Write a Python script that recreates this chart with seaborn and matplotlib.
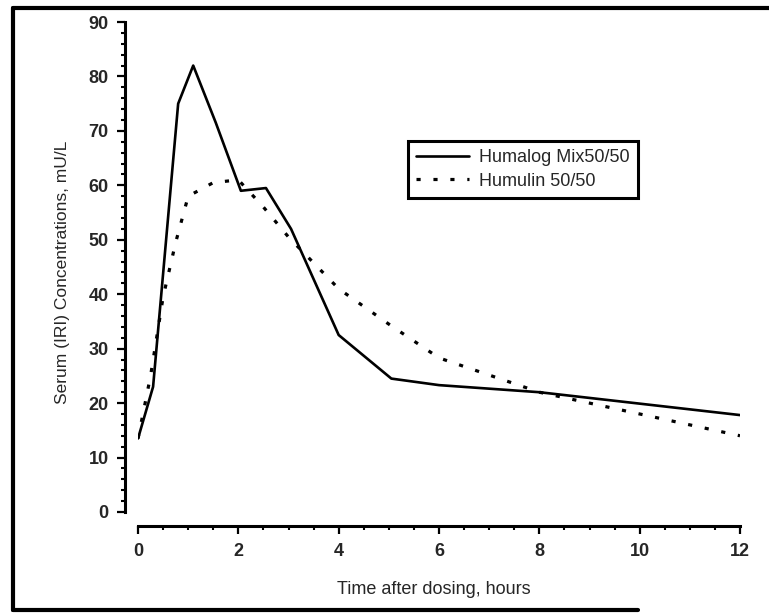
import numpy as np
import matplotlib
matplotlib.use("Agg")
import matplotlib.pyplot as plt
from matplotlib.ticker import MultipleLocator
from matplotlib.lines import Line2D
import seaborn as sns
import pandas as pd

# values
humalog_time = [0, 0.3, 0.8, 1.1, 1.55, 2.05, 2.55, 3.05, 4.0, 5.05, 6.0, 8.0, 12.0]
humalog_conc = [13.5, 23, 75, 82, 71.5, 59, 59.5, 52, 32.5, 24.5, 23.3, 22, 17.8]

humulin_time = [0, 0.25, 0.5, 0.75, 1.0, 1.5, 2.0, 2.5, 3.0, 4.0, 5.0, 6.0, 8.0, 12.0]
humulin_conc = [13.5, 25, 39.5, 49.5, 58, 60.5, 61, 56, 50.5, 41, 34.5, 28.3, 22, 14]

x_ticks = [0, 2, 4, 6, 8, 10, 12]
y_ticks = [0, 10, 20, 30, 40, 50, 60, 70, 80, 90]

df_humalog = pd.DataFrame({"time": humalog_time, "conc": humalog_conc})
df_humulin = pd.DataFrame({"time": humulin_time, "conc": humulin_conc})

sns.set_style("ticks")
plt.rcParams["font.family"] = ["Liberation Sans", "DejaVu Sans"]

fig = plt.figure(figsize=(7.69, 6.13), dpi=100)
ax = fig.add_axes([0.1795, 0.1648, 0.7828, 0.7993])

sns.lineplot(data=df_humalog, x="time", y="conc", ax=ax, color="black",
             lw=1.9, label="Humalog Mix50/50", errorbar=None, sort=False)
sns.lineplot(data=df_humulin, x="time", y="conc", ax=ax, color="black",
             lw=2.3, linestyle=(0, (1.3, 4.0)), label="Humulin 50/50",
             errorbar=None, sort=False)

ax.set_xlim(0, 12)
ax.set_ylim(0, 90)
ax.set_xticks(x_ticks)
ax.set_yticks(y_ticks)
ax.xaxis.set_minor_locator(MultipleLocator(0.5))
ax.yaxis.set_minor_locator(MultipleLocator(2))

sns.despine(ax=ax)
ax.spines["left"].set_position(("outward", 9.5))
ax.spines["bottom"].set_position(("outward", 10))
for s in ["left", "bottom"]:
    ax.spines[s].set_linewidth(2.2)
    ax.spines[s].set_color("black")

ax.tick_params(which="major", length=6, width=1.6, color="black", labelsize=13)
ax.tick_params(which="minor", length=3, width=1.5, color="black")
ax.tick_params(axis="y", which="major", pad=5.5)
ax.tick_params(axis="x", which="major", pad=6.5)
for lab in ax.get_xticklabels() + ax.get_yticklabels():
    lab.set_fontweight("bold")

ax.set_xlabel("Time after dosing, hours", fontsize=13)
ax.set_ylabel("Serum (IRI) Concentrations, mU/L", fontsize=12.5)
ax.xaxis.set_label_coords(0.491, -0.141)
ax.yaxis.set_label_coords(-0.113, 0.49)

leg = ax.legend(loc="upper left", bbox_to_anchor=(0.4485, 0.757), fontsize=13,
                frameon=True, fancybox=False, edgecolor="black", framealpha=1,
                handlelength=2.9, handletextpad=0.6, borderpad=0.45,
                labelspacing=0.35, borderaxespad=0)
leg.get_frame().set_linewidth(2.2)

# border of the scanned page
fig.add_artist(Line2D([0.017, 1.0], [0.987, 0.987], transform=fig.transFigure, color="black", lw=3))
fig.add_artist(Line2D([0.017, 0.017], [0.005, 0.987], transform=fig.transFigure, color="black", lw=3))
fig.add_artist(Line2D([0.017, 0.83], [0.005, 0.005], transform=fig.transFigure, color="black", lw=3))

fig.savefig("out.png", dpi=100)
